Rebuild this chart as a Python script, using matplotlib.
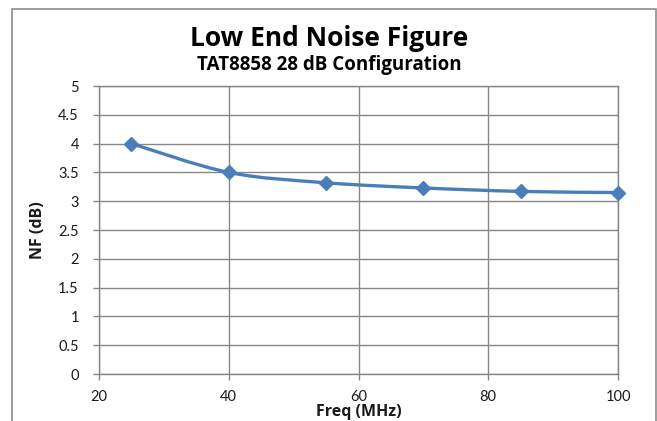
import matplotlib
matplotlib.use("Agg")
import matplotlib.pyplot as plt
from matplotlib.path import Path
from matplotlib.patches import PathPatch, Rectangle
import numpy as np

# data
freq_mhz = [25, 40, 55, 70, 85, 100]
nf_db = [4.0, 3.5, 3.32, 3.23, 3.17, 3.15]
x_ticks = [20, 40, 60, 80, 100]
y_ticks = [0, 0.5, 1, 1.5, 2, 2.5, 3, 3.5, 4, 4.5, 5]
y_tick_labels = ['0', '0.5', '1', '1.5', '2', '2.5', '3', '3.5', '4', '4.5', '5']

title = 'Low End Noise Figure'
subtitle = 'TAT8858 28 dB Configuration'
x_label = 'Freq (MHz)'
y_label = 'NF (dB)'

line_color = '#4a7ebb'
grid_color = '#878787'
text_color = '#1a1a1a'

plt.rcParams['font.family'] = ['Lato', 'DejaVu Sans']
head_font = ['Open Sans', 'DejaVu Sans']

fig = plt.figure(figsize=(6.57, 4.21), dpi=100)
ax = fig.add_axes([99 / 657, 1 - 374 / 421, (618 - 99) / 657, (374 - 86) / 421])

# outer chart border (Excel style)
fig.patches.append(Rectangle((12 / 657, -0.1), (656 - 12) / 657, 1.1 - 9 / 421,
                             transform=fig.transFigure, fill=False,
                             edgecolor='#8c8c8c', linewidth=1.2))

# smoothed line like Excel (Catmull-Rom as cubic Bezier)
pts = np.column_stack([freq_mhz, nf_db]).astype(float)
n = len(pts)
verts = [tuple(pts[0])]
codes = [Path.MOVETO]
for i in range(n - 1):
    p0 = pts[i - 1] if i > 0 else pts[i]
    p1 = pts[i]
    p2 = pts[i + 1]
    p3 = pts[i + 2] if i + 2 < n else pts[i + 1]
    c1 = p1 + (p2 - p0) / 6.0
    c2 = p2 - (p3 - p1) / 6.0
    verts += [tuple(c1), tuple(c2), tuple(p2)]
    codes += [Path.CURVE4] * 3
ax.add_patch(PathPatch(Path(verts, codes), facecolor='none', edgecolor=line_color,
                       linewidth=2.4, capstyle='round', joinstyle='round', zorder=3))
ax.plot(freq_mhz, nf_db, linestyle='none', marker='D', markersize=7,
        color=line_color, zorder=4, clip_on=False)

ax.set_xlim(20, 100)
ax.set_ylim(0, 5)
ax.set_xticks(x_ticks)
ax.set_yticks(y_ticks)
ax.set_yticklabels(y_tick_labels)
ax.grid(True, color=grid_color, linewidth=1.0)
ax.set_axisbelow(True)
for s in ax.spines.values():
    s.set_color(grid_color)
    s.set_linewidth(1.0)
ax.tick_params(axis='both', direction='out', length=4.5, width=1.0, color=grid_color,
               labelsize=10.5, labelcolor=text_color)
ax.tick_params(axis='y', pad=10)
ax.tick_params(axis='x', pad=7)

ax.set_xlabel(x_label, fontsize=11.5, fontweight='bold', color=text_color, labelpad=0,
              family=head_font)
ax.set_ylabel(y_label, fontsize=11.5, fontweight='bold', color=text_color, labelpad=9,
              family=head_font)

fig.text(329 / 657, 1 - 38 / 421, title, ha='center', va='center',
         fontsize=19, fontweight='bold', color='#000000', family=head_font)
fig.text(329 / 657, 1 - 65 / 421, subtitle, ha='center', va='center',
         fontsize=13.5, fontweight='bold', color='#000000', family=head_font)

fig.savefig('out.png', dpi=100)
